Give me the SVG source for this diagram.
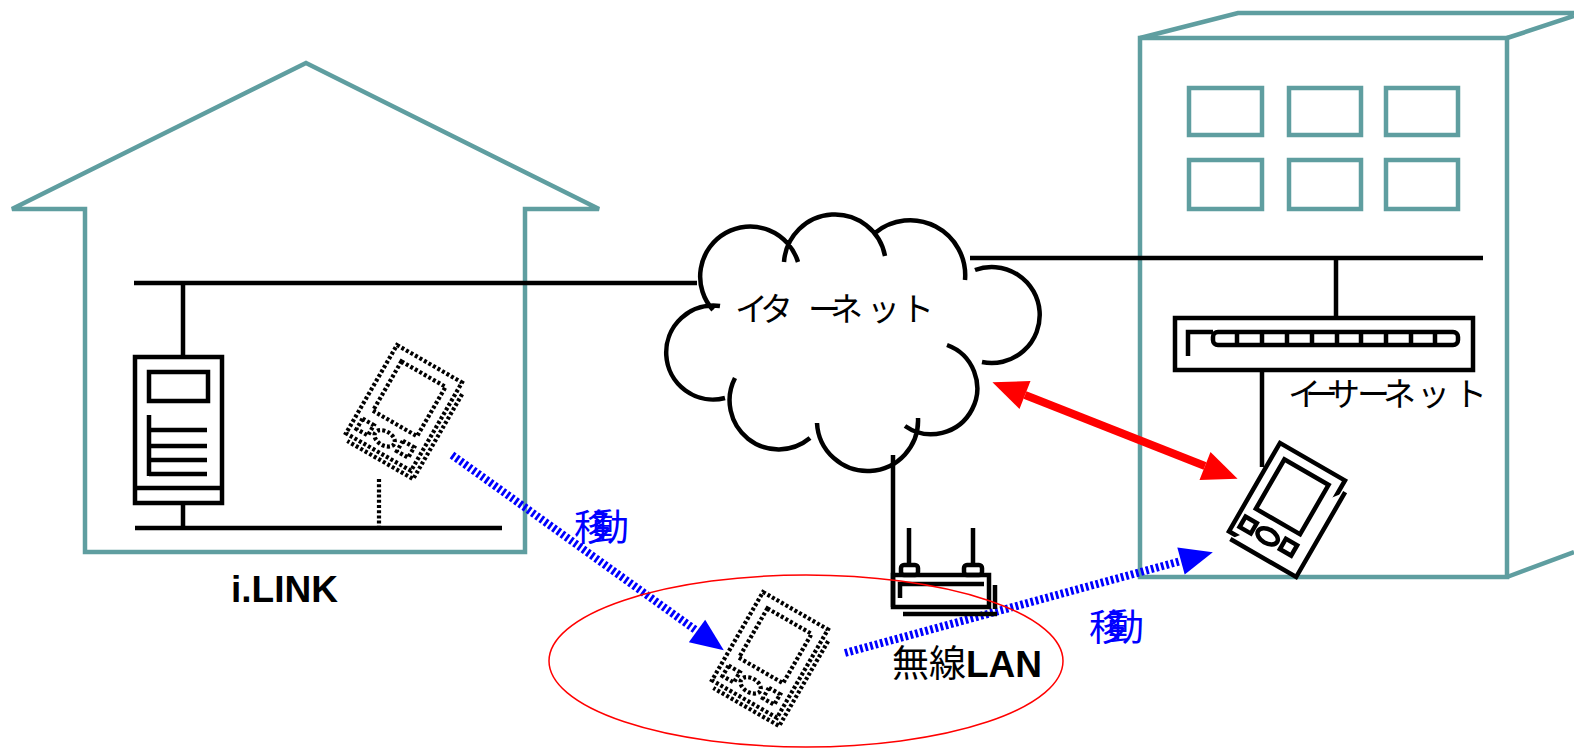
<svg xmlns="http://www.w3.org/2000/svg" width="1574" height="749" viewBox="0 0 1574 749">
  <style>
    .wall { fill: none; stroke: #5F9EA0; stroke-width: 4.5; stroke-linejoin: miter; }
    .ln { fill: none; stroke: #000; stroke-width: 4.5; }
    .dot { fill: none; stroke: #000; stroke-width: 4.2; stroke-dasharray: 3 2.2; }
    .move { fill: none; stroke: #0000FF; stroke-width: 8; stroke-dasharray: 2.8 2.4; }
    .jp { font-family: "Noto Sans CJK JP", sans-serif; }
    .lbl { font-family: "Liberation Sans", Arial, sans-serif; font-weight: bold; }
  </style>
  <defs>
    <marker id="headBlue" markerUnits="userSpaceOnUse" markerWidth="34" markerHeight="30" refX="0" refY="15" orient="auto" overflow="visible">
      <path d="M0,1 L33,15 L0,29 Z" fill="#0000FF"/>
    </marker>
    <marker id="headRed" markerUnits="userSpaceOnUse" markerWidth="36" markerHeight="30" refX="0" refY="15" orient="auto-start-reverse" overflow="visible">
      <path d="M0,0 L35,15 L0,30 Z" fill="#FF0000"/>
    </marker>
    <!-- handheld terminal, drawn upright at origin -->
    <g id="pda">
      <rect x="0" y="0" width="75" height="102"/>
      <path d="M81,10 V108 H5"/>
      <rect x="12" y="12" width="51" height="57"/>
      <rect x="7" y="81" width="13" height="12"/>
      <ellipse cx="36" cy="87" rx="11" ry="7"/>
      <rect x="53" y="80" width="13" height="12"/>
    </g>
  </defs>

  <rect width="1574" height="749" fill="#fff"/>

  <!-- house -->
  <g id="house">
    <path class="wall" d="M12,209 L306,63 L599,209 L525,209 L525,552 L85,552 L85,209 Z"/>
  </g>

  <!-- office building -->
  <g id="building">
    <path class="wall" d="M1140,577 V38 H1507 V577 Z"/>
    <path class="wall" d="M1140,38 L1238,13 H1574 M1507,38 L1574,16 M1507,577 L1574,552"/>
    <rect class="wall" x="1189" y="88" width="73" height="47"/>
    <rect class="wall" x="1289" y="88" width="72" height="47"/>
    <rect class="wall" x="1386" y="88" width="72" height="47"/>
    <rect class="wall" x="1189" y="160" width="73" height="49"/>
    <rect class="wall" x="1289" y="160" width="72" height="49"/>
    <rect class="wall" x="1386" y="160" width="72" height="49"/>
  </g>

  <!-- network lines and movement arrows -->
  <g id="connectors">
    <path class="ln" d="M134,283 H697"/>
    <path class="ln" d="M135,528 H502"/>
    <path class="ln" d="M183,283 V356 M183,504 V528"/>
    <path class="dot" d="M379,479 V527"/>
    <path class="ln" d="M970,258 H1483"/>
    <path class="ln" d="M1336,258 V318"/>
    <path class="ln" d="M1262,370 V467"/>
    <path class="ln" d="M893,455 V607"/>
    <path class="move" d="M452,455 L697,631" marker-end="url(#headBlue)"/>
    <path class="move" d="M845,653 L1181,561" marker-end="url(#headBlue)"/>
    <path d="M1025,395 L1205,466" stroke="#FF0000" stroke-width="8" fill="none" marker-start="url(#headRed)" marker-end="url(#headRed)"/>
  </g>

  <!-- desktop computer -->
  <g id="pc" class="ln">
    <rect x="135" y="357" width="87" height="146"/>
    <path d="M135,488 H222"/>
    <rect x="149" y="372" width="59" height="29"/>
    <path d="M149,415 V476 M149,430 H207 M149,446 H207 M149,460 H207 M149,474 H207"/>
  </g>

  <!-- handheld at home (dotted) -->
  <g id="pda-home" class="dot">
    <use href="#pda" transform="translate(397,345) rotate(30)"/>
  </g>

  <!-- internet cloud -->
  <g id="cloud">
    <path class="ln" d="M713,310 A50,50 0 1 1 798,262 M784,262 A51,51 0 0 1 885,256 M875,233 A55,55 0 0 1 965,280 M975,270 A48,48 0 1 1 982,362 M947,345 A46,46 0 1 1 905,426 M918,418 A50,50 0 0 1 817,423 M810,438 A49,49 0 0 1 735,378 M725,398 A47,47 0 1 1 720,306"/>
    <text class="jp" font-size="33" y="321" x="735 760 808 830 867 901">イターネット</text>
  </g>

  <!-- switching hub -->
  <g id="hub">
    <rect class="ln" x="1175" y="318" width="298" height="52"/>
    <path class="ln" d="M1188,356 V332 H1213"/>
    <rect class="ln" x="1213" y="332" width="245" height="13" rx="5"/>
    <path class="ln" d="M1237,332 V345 M1262,332 V345 M1287,332 V345 M1312,332 V345 M1337,332 V345 M1361,332 V345 M1386,332 V345 M1411,332 V345 M1435,332 V345"/>
    <text class="jp" font-size="33" y="406" x="1288 1305 1327 1357 1383 1417 1454">イーサーネット</text>
  </g>

  <!-- wireless access point -->
  <g id="router">
    <path class="ln" d="M909,528 V566 M973,528 V566"/>
    <rect class="ln" x="901" y="565" width="17" height="10" rx="3"/>
    <rect class="ln" x="964" y="565" width="18" height="10" rx="3"/>
    <rect class="ln" x="893" y="575" width="96" height="32" fill="#fff"/>
    <path class="ln" d="M900,598 V584 H984"/>
    <path class="ln" d="M995,585 V609 M903,614 H997"/>
  </g>

  <!-- wireless coverage -->
  <g id="wlan">
    <ellipse cx="806" cy="661" rx="257" ry="86" fill="none" stroke="#FF0000" stroke-width="1.5"/>
    <text font-size="37" x="892" y="677"><tspan class="jp">無線</tspan><tspan class="lbl">LAN</tspan></text>
  </g>

  <!-- handheld in wireless area (dotted) -->
  <g id="pda-wireless" class="dot">
    <use href="#pda" transform="translate(763,592) rotate(30)"/>
  </g>

  <!-- handheld at office -->
  <g id="pda-office" class="ln">
    <use href="#pda" transform="translate(1280,443) rotate(30)" fill="#fff"/>
  </g>

  <!-- labels -->
  <g id="labels">
    <text class="lbl" font-size="37" x="231" y="602">i.LINK</text>
    <text class="jp" font-size="37" fill="#0000FF" x="574 592" y="541">移動</text>
    <text class="jp" font-size="37" fill="#0000FF" x="1089 1107" y="641">移動</text>
  </g>
</svg>
